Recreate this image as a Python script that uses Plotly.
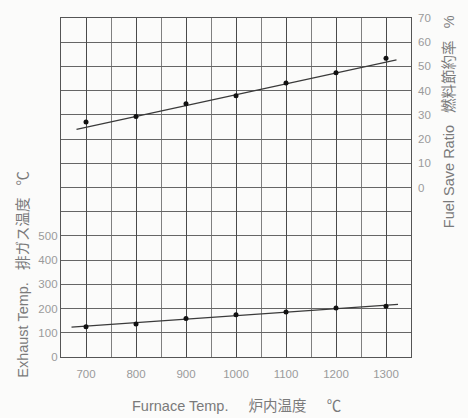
import plotly.graph_objects as go

furnace_temp = [700, 800, 900, 1000, 1100, 1200, 1300]
fuel_save = [27, 29.3, 34.6, 37.9, 43.2, 47.4, 53.4]
exhaust_temp = [125, 136, 159, 174, 186, 202, 210]

fuel_trend_x = [681, 1321]
fuel_trend_y = [24, 52.7]
exhaust_trend_x = [671, 1324]
exhaust_trend_y = [123, 217]

x_ticks = [700, 800, 900, 1000, 1100, 1200, 1300]
left_ticks = [0, 100, 200, 300, 400, 500]
right_ticks = [0, 10, 20, 30, 40, 50, 60, 70]

lc = "#3a3a3a"
tick_font = dict(family="Liberation Sans, Arial", size=11.5, color="#9a9a9a")
title_font = dict(family="Liberation Sans, Noto Sans CJK JP", size=14.5, color="#7a7a7a")

fig = go.Figure()
fig.add_trace(go.Scatter(x=exhaust_trend_x, y=exhaust_trend_y, mode="lines",
                         line=dict(color=lc, width=1.2), yaxis="y", showlegend=False))
fig.add_trace(go.Scatter(x=furnace_temp, y=exhaust_temp, mode="markers",
                         marker=dict(color="#111111", size=5), yaxis="y", showlegend=False))
fig.add_trace(go.Scatter(x=fuel_trend_x, y=fuel_trend_y, mode="lines",
                         line=dict(color=lc, width=1.2), yaxis="y2", showlegend=False))
fig.add_trace(go.Scatter(x=furnace_temp, y=fuel_save, mode="markers",
                         marker=dict(color="#111111", size=5), yaxis="y2", showlegend=False))

sp = "&nbsp;&nbsp;&nbsp;"
sp4 = "&nbsp;&nbsp;&nbsp;&nbsp;&nbsp;"
fig.update_layout(
    width=468, height=418,
    margin=dict(l=61, r=57, t=12, b=61),
    paper_bgcolor="#fbfbfa", plot_bgcolor="#fbfbfa",
    xaxis=dict(range=[650, 1350], tickvals=x_ticks, ticks="", showgrid=True,
               gridcolor="#4a4a4a", gridwidth=1.4,
               minor=dict(dtick=50, tick0=650, showgrid=True, gridcolor="#808080", gridwidth=1),
               showline=True, linecolor="#555555", linewidth=1.3, mirror=True,
               tickfont=tick_font, zeroline=False, ticklabelstandoff=6),
    yaxis=dict(range=[0, 1400], tickvals=left_ticks, ticks="", showgrid=False,
               minor=dict(dtick=100, tick0=0, showgrid=True, gridcolor="#666666", gridwidth=1.1),
               showline=True, linecolor="#555555", linewidth=1.3, mirror=True,
               tickfont=tick_font, zeroline=False),
    yaxis2=dict(range=[-70, 70], tickvals=right_ticks, ticks="", showgrid=False,
                overlaying="y", side="right", tickfont=tick_font, zeroline=False,
                showline=False, ticklabelstandoff=6),
    annotations=[
        dict(text="Furnace Temp." + sp4 + "炉内温度" + sp4 + "℃", xref="paper", yref="paper",
             x=0.5, y=-0.145, xanchor="center", yanchor="middle", showarrow=False, font=title_font),
        dict(text="Exhaust Temp." + sp + "排ガス温度" + sp + "℃", xref="paper", yref="paper",
             x=-0.111, y=0.243, xanchor="center", yanchor="middle", textangle=-90,
             showarrow=False, font=title_font),
        dict(text="Fuel Save Ratio" + sp + "燃料節約率" + sp + "%", xref="paper", yref="paper",
             x=1.106, y=0.693, xanchor="center", yanchor="middle", textangle=-90,
             showarrow=False, font=title_font),
    ],
)

fig.write_html("out.html")
